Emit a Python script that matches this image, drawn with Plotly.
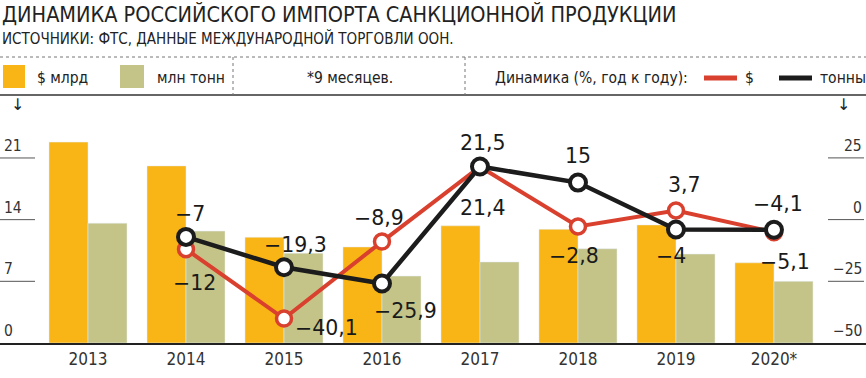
import plotly.graph_objects as go

years = ["2013", "2014", "2015", "2016", "2017", "2018", "2019", "2020*"]
usd_bn = [22.8, 20.1, 12.0, 10.9, 13.3, 12.9, 13.4, 9.1]
mln_t = [13.6, 12.7, 10.2, 7.6, 9.2, 10.7, 10.1, 7.0]
dyn_years = years[1:]
dyn_usd = [-12, -40.1, -8.9, 21.4, -2.8, 3.7, -5.1]
dyn_t = [-7, -19.3, -25.9, 21.5, 15, -4, -4.1]
label_usd = ["−12", "−40,1", "−8,9", "21,4", "−2,8", "3,7", "−5,1"]
label_t = ["−7", "−19,3", "−25,9", "21,5", "15", "−4", "−4,1"]
left_ticks = [0, 7, 14, 21]
right_ticks = [-50, -25, 0, 25]

ORANGE = "#F9B515"
GREEN = "#C4C489"
RED = "#D9402E"
BLACK = "#1C1C1C"
FONT = "Liberation Sans Narrow, DejaVu Sans Condensed, Arial Narrow, sans-serif"
LFONT = "DejaVu Sans, sans-serif"

W, H = 866, 378
T, B = 100, 35
PLOT_H = H - T - B


def py(p):
    return (H - B - p) / PLOT_H


def px(p):
    return p / W


fig = go.Figure()
fig.add_bar(x=years, y=usd_bn, marker_color=ORANGE, name="$ млрд", yaxis="y")
fig.add_bar(x=years, y=mln_t, marker_color=GREEN, name="млн тонн", yaxis="y")
fig.add_scatter(x=dyn_years, y=dyn_usd, yaxis="y2", mode="lines+markers",
                line=dict(color=RED, width=4),
                marker=dict(size=15, color="white", line=dict(color=RED, width=3.5)))
fig.add_scatter(x=dyn_years, y=dyn_t, yaxis="y2", mode="lines+markers",
                line=dict(color=BLACK, width=4.5),
                marker=dict(size=16, color="white", line=dict(color=BLACK, width=4)))

ann = []
shapes = []

# data labels: offsets in pixels from the point (xshift, yshift)
usd_off = [(8, -34), (42, -9), (-3, 24), (3, -41), (-4, -29), (9, 25), (11, -30)]
t_off = [(4, 23), (11, 22), (24, -27), (3, 24), (0, 27), (-5, -27), (4, 26)]
for i, yr in enumerate(dyn_years):
    cat_index = years.index(yr)
    for txt, val, (dx, dy) in ((label_usd[i], dyn_usd[i], usd_off[i]),
                               (label_t[i], dyn_t[i], t_off[i])):
        ann.append(dict(x=cat_index, y=val, xref="x", yref="y2", text=txt, showarrow=False,
                        xshift=dx, yshift=dy, font=dict(family=LFONT, size=20.5, color="#1a1a1a")))

# axis tick labels + short tick lines
for v in left_ticks:
    if v != 0:
        shapes.append(dict(type="line", xref="paper", yref="y", x0=0, x1=px(35), y0=v, y1=v,
                           line=dict(color="#555", width=1)))
    ann.append(dict(x=px(2), y=v, xref="paper", yref="y", text=str(v), showarrow=False,
                    xanchor="left", yanchor="bottom", yshift=1,
                    font=dict(family=FONT, size=15.5, color="#333")))
for v in right_ticks:
    if v != -50:
        shapes.append(dict(type="line", xref="paper", yref="y2", x0=px(828), x1=px(864), y0=v, y1=v,
                           line=dict(color="#555", width=1)))
    ann.append(dict(x=px(864), y=v, xref="paper", yref="y2", text=str(v).replace("-", "−"),
                    showarrow=False, xanchor="right", yanchor="bottom", yshift=1,
                    font=dict(family=FONT, size=15.5, color="#333")))

# header
ann.append(dict(x=0, y=py(15), xref="paper", yref="paper", xanchor="left", yanchor="middle",
                text="ДИНАМИКА РОССИЙСКОГО ИМПОРТА САНКЦИОННОЙ ПРОДУКЦИИ", showarrow=False,
                font=dict(family=FONT, size=21.5, color="#222")))
ann.append(dict(x=0, y=py(38), xref="paper", yref="paper", xanchor="left", yanchor="middle",
                text="ИСТОЧНИКИ: ФТС, ДАННЫЕ МЕЖДУНАРОДНОЙ ТОРГОВЛИ ООН.", showarrow=False,
                font=dict(family=FONT, size=15, color="#222")))

shapes.append(dict(type="line", xref="paper", yref="paper", x0=0, x1=1, y0=py(57), y1=py(57),
                   line=dict(color="#777", width=1, dash="dot")))
shapes.append(dict(type="line", xref="paper", yref="paper", x0=0, x1=1, y0=py(95), y1=py(95),
                   line=dict(color="#333", width=1.5)))
for xv in (233, 465):
    shapes.append(dict(type="line", xref="paper", yref="paper", x0=px(xv), x1=px(xv),
                       y0=py(57), y1=py(95), line=dict(color="#777", width=1, dash="dot")))

# legend
shapes.append(dict(type="rect", xref="paper", yref="paper", x0=px(3), x1=px(25), y0=py(88), y1=py(65),
                   fillcolor=ORANGE, line=dict(width=0)))
shapes.append(dict(type="rect", xref="paper", yref="paper", x0=px(120), x1=px(144), y0=py(88), y1=py(65),
                   fillcolor=GREEN, line=dict(width=0)))
shapes.append(dict(type="line", xref="paper", yref="paper", x0=px(704), x1=px(737), y0=py(78), y1=py(78),
                   line=dict(color=RED, width=5)))
shapes.append(dict(type="line", xref="paper", yref="paper", x0=px(779), x1=px(812), y0=py(78), y1=py(78),
                   line=dict(color=BLACK, width=5)))
for txt, xv in (("$ млрд", 35), ("млн тонн", 155), ("*9 месяцев.", 305),
                ("Динамика (%, год к году):", 493), ("$", 743), ("тонны", 818)):
    ann.append(dict(x=px(xv), y=py(78), xref="paper", yref="paper", xanchor="left", yanchor="middle",
                    text=txt, showarrow=False, font=dict(family=FONT, size=15.5, color="#222")))

# arrows
for xv in (17, 843):
    ann.append(dict(x=px(xv), y=py(104), xref="paper", yref="paper", xanchor="center", yanchor="middle",
                    text="↓", showarrow=False, font=dict(family="DejaVu Sans", size=16, color="#222")))

fig.update_layout(
    width=W, height=H, margin=dict(l=0, r=0, t=T, b=B),
    paper_bgcolor="white", plot_bgcolor="white",
    barmode="group", bargap=0.204, bargroupgap=0, showlegend=False,
    xaxis=dict(type="category", range=[-0.898, 7.939], showgrid=False, zeroline=False,
               showline=True, linecolor="#222", linewidth=1.5, ticks="",
               tickfont=dict(family=FONT, size=17, color="#333")),
    yaxis=dict(range=[0, 27.58], showgrid=False, zeroline=False, showticklabels=False),
    yaxis2=dict(range=[-50, 48.46], overlaying="y", side="right", showgrid=False,
                zeroline=False, showticklabels=False),
    annotations=ann, shapes=shapes,
)

fig.write_html("out.html", config={"displayModeBar": False},
               post_script="document.body.style.margin='0';document.body.style.overflow='hidden';")
